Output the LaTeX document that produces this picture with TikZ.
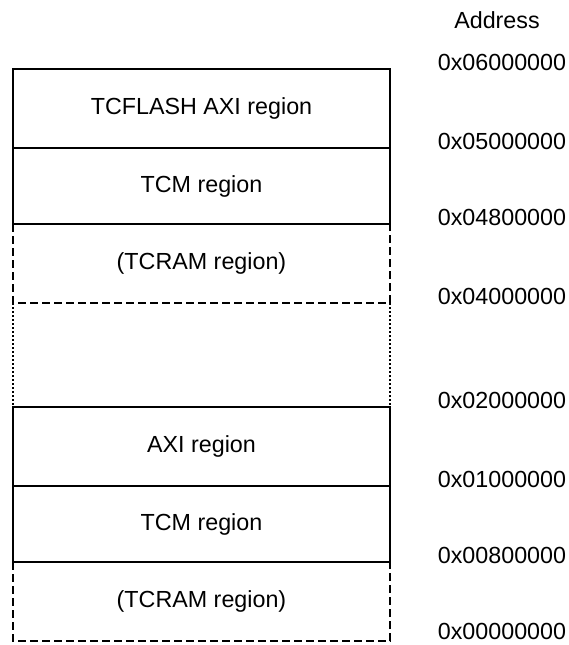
\documentclass[tikz,border=0pt]{standalone}
\usepackage{fontspec}
\setmainfont{Liberation Sans}
\usetikzlibrary{positioning}

\tikzset{
	region/.style={minimum width=377pt, inner sep=0pt, outer sep=0pt},
	solidedge/.style={line width=2pt},
	dashededge/.style={line width=2pt, dash pattern=on 8pt off 4pt},
	dottededge/.style={line width=1.8pt, dash pattern=on 2pt off 2pt},
	addrlabel/.style={inner sep=0pt}
}

\begin{document}
\begin{tikzpicture}[x=1pt, y=-1pt, font=\fontsize{23.3}{27}\selectfont]

	\useasboundingbox (0,0) rectangle (569,645);

	\def\xmid{201.5}

	% upper block
	\node[region, minimum height=79pt] (flashhi) at (\xmid,108.5) {TCFLASH AXI region};
	\node[region, minimum height=76pt] (tcmhi) at (\xmid,186) {TCM region};
	\node[region, minimum height=79pt] (tcramhi) at (\xmid,263.5) {(TCRAM region)};
	\node[region, minimum height=104pt] (gap) at (\xmid,355) {};

	% lower block
	\node[region, minimum height=79pt] (axilo) at (\xmid,446.5) {AXI region};
	\node[region, minimum height=76pt] (tcmlo) at (\xmid,524) {TCM region};
	\node[region, minimum height=79pt] (tcramlo) at (\xmid,601.5) {(TCRAM region)};

	% reserved / absent areas
	\draw[dottededge] (gap.north west) -- (gap.south west);
	\draw[dottededge] (gap.north east) -- (gap.south east);
	\draw[dashededge] (tcramhi.north west) -- (tcramhi.south west) -- (tcramhi.south east) -- (tcramhi.north east);
	\draw[dashededge] (tcramlo.north west) -- (tcramlo.south west) -- (tcramlo.south east) -- (tcramlo.north east);

	% implemented regions
	\draw[solidedge] (flashhi.north west) rectangle (tcmhi.south east);
	\draw[solidedge] (flashhi.south west) -- (flashhi.south east);
	\draw[solidedge] (axilo.north west) rectangle (tcmlo.south east);
	\draw[solidedge] (axilo.south west) -- (axilo.south east);

	% addresses
	\node[addrlabel] (addrhead) at (497,20) {Address};
	\foreach \y/\addr [count=\i] in {62/0x06000000, 141/0x05000000, 217/0x04800000, 296/0x04000000, 400/0x02000000, 479/0x01000000, 555/0x00800000, 631/0x00000000}
		\node[addrlabel] (addr\i) at (502,\y) {\addr};

\end{tikzpicture}
\end{document}
